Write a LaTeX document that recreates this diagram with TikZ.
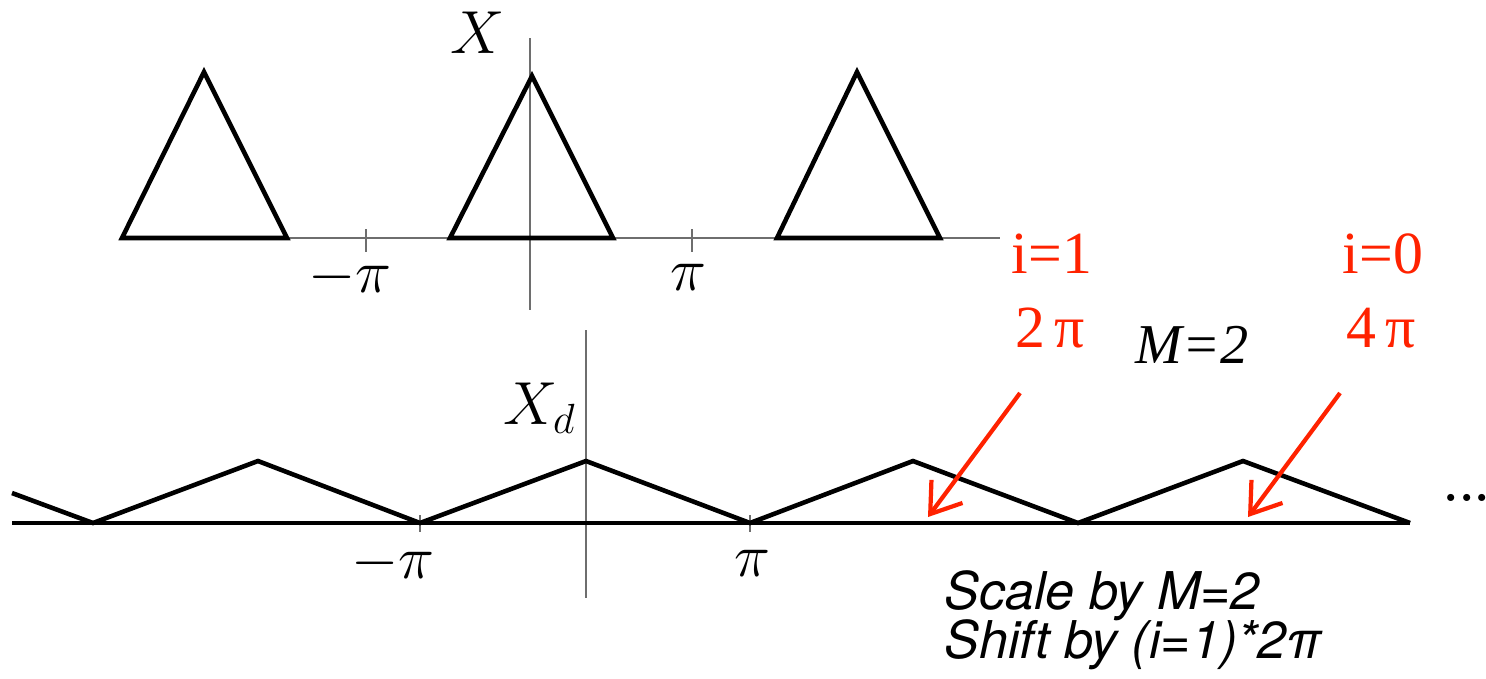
\documentclass[tikz,border=0pt]{standalone}
\usepackage{fontspec}
\usetikzlibrary{arrows.meta}
\newfontfamily\redfont{Liberation Serif}
\newfontfamily\notefont{TeX Gyre Heros}
\definecolor{annot}{RGB}{255,34,0}
\definecolor{axisgray}{RGB}{110,110,110}

\begin{document}
\begin{tikzpicture}[x=0.01cm,y=-0.01cm,font=\fontsize{16}{19}\selectfont,
  axis/.style={axisgray,line width=0.6pt},
  curve/.style={black,line width=1.3pt,line join=miter},
  redlbl/.style={annot,font=\redfont\fontsize{17}{20}\selectfont},
  redarrow/.style={annot,line width=1.2pt,-{Straight Barb[length=8pt,width=11pt,line width=1.2pt]}},
  note/.style={anchor=base west,inner sep=0pt,font=\notefont\itshape\fontsize{14.8}{14}\selectfont}]
\useasboundingbox (0,0) rectangle (1486,678);
% top spectrum X
\coordinate (T1a) at (122,238);
\coordinate (T1b) at (204,72);
\coordinate (T1c) at (287,238);
\coordinate (T2a) at (450,238);
\coordinate (T2b) at (532,76);
\coordinate (T2c) at (613,238);
\coordinate (T3a) at (777,238);
\coordinate (T3b) at (857,72);
\coordinate (T3c) at (940,238);

\draw[axis] (122,238) -- (1000,238);
\draw[axis] (530,38) -- (530,310);
\draw[axis] (366,229) -- (366,252);
\draw[axis] (692,229) -- (692,252);
\draw[curve] (T1a)--(T1b)--(T1c)--cycle;
\draw[curve] (T2a)--(T2b)--(T2c)--cycle;
\draw[curve] (T3a)--(T3b)--(T3c)--cycle;

\node[font=\fontsize{17}{20}\selectfont] (X) at (478,33) {$X$};
\node (mpiA) at (350,277) {$-\pi$};
\node (piA) at (688,277) {$\pi$};

% bottom spectrum X_d
\coordinate (B0) at (12,493);
\coordinate (B1) at (93,523);
\coordinate (B2) at (258,461);
\coordinate (B3) at (420,523);
\coordinate (B4) at (586,461);
\coordinate (B5) at (750,523);
\coordinate (B6) at (913,461);
\coordinate (B7) at (1078,523);
\coordinate (B8) at (1243,461);
\coordinate (B9) at (1410,523);

\draw[axis] (586,330) -- (586,598);
\draw[axis] (420,515) -- (420,532);
\draw[axis] (750,515) -- (750,532);
\draw[curve] (12,523) -- (B9);
\draw[curve] (B0)--(B1)--(B2)--(B3)--(B4)--(B5)--(B6)--(B7)--(B8)--(B9);

\node[font=\fontsize{17}{20}\selectfont] (Xd) at (540,408) {$X_d$};
\node (mpiB) at (393,563) {$-\pi$};
\node (piB) at (752,563) {$\pi$};
\node[anchor=base west,inner sep=0pt,font=\fontsize{14}{16}\selectfont\bfseries] (dots) at (1443,501) {...};
\node[anchor=base west,font=\redfont\itshape\fontsize{16}{19}\selectfont] (M) at (1123,363) {M=2};

% shifted copies
\node[redlbl,anchor=base] (i1) at (1052,273) {i=1};
\node[redlbl,anchor=base] (s1) at (1050,347) {2\,π};
\node[redlbl,anchor=base] (i0) at (1383,273) {i=0};
\node[redlbl,anchor=base] (s0) at (1381,347) {4\,π};
\coordinate (a1) at (1020,393);
\coordinate (e1) at (928,517);
\coordinate (a0) at (1340,393);
\coordinate (e0) at (1248,517);
\draw[redarrow] (a1) -- (e1);
\draw[redarrow] (a0) -- (e0);

\node[note] (note1) at (944,609) {Scale by M=2};
\node[note] (note2) at (944,658) {Shift by (i=1)*2π};
\end{tikzpicture}
\end{document}
